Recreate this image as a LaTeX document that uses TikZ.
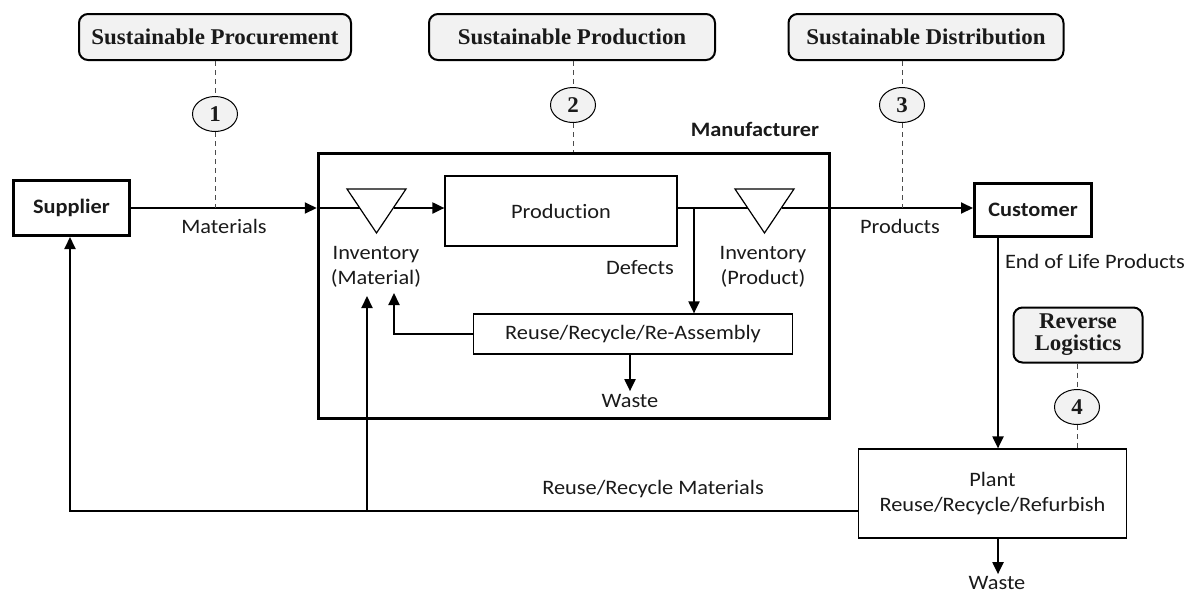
\documentclass[tikz,border=0pt]{standalone}
\usepackage{fontspec}
\setmainfont{Carlito}[FakeStretch=1.09,Ligatures=NoCommon]
\newfontfamily\serifbf{Liberation Serif}[FakeStretch=1.02]
\usetikzlibrary{arrows.meta,shapes.geometric}
\definecolor{boxfill}{HTML}{F2F2F2}
\definecolor{txt}{HTML}{1A1A1A}
\begin{document}
\begin{tikzpicture}[x=1pt,y=-1pt,
  every node/.style={font=\fontsize{20.5}{25}\selectfont, inner sep=0pt, text=txt},
  lbl/.style={align=center},
  boldlbl/.style={font=\bfseries\fontsize{20.5}{25}\selectfont},
  topbox/.style={draw, rounded corners=9pt, fill=boxfill, line width=2pt, minimum height=46pt,
    font=\serifbf\bfseries\fontsize{22.5}{24}\selectfont, align=center},
  num/.style={draw, ellipse, fill=boxfill, minimum width=45pt, minimum height=35pt, line width=1pt,
    font=\serifbf\bfseries\fontsize{22.5}{24}\selectfont},
  guide/.style={line width=1pt, draw=black!70, dash pattern=on 5pt off 4pt},
  flow/.style={line width=2pt, -{Triangle[length=12pt,width=11pt]}},
  plain/.style={line width=2pt},
  bigbox/.style={draw, line width=3pt, font=\bfseries\fontsize{20.5}{25}\selectfont},
  smallbox/.style={draw, line width=1.2pt, align=center},
  invtri/.style={draw, line width=1.2pt, fill=white}
]
\useasboundingbox (0,0) rectangle (1195,595);

% top category boxes
\node[topbox, minimum width=272pt] (tb1) at (215,37) {Sustainable Procurement};
\node[topbox, minimum width=286pt] (tb2) at (572,37) {Sustainable Production};
\node[topbox, minimum width=275pt] (tb3) at (926,37) {Sustainable Distribution};
\node[topbox, minimum width=129pt, minimum height=55pt] (tb4) at (1078,335) {Reverse\\[-2pt]Logistics};

% numbered ellipses
\node[num] (n1) at (215,114) {1};
\node[num] (n2) at (573,105) {2};
\node[num] (n3) at (902,105) {3};
\node[num] (n4) at (1077,407) {4};

% main boxes
\node[bigbox, minimum width=116pt, minimum height=55pt] (sup) at (71.5,208) {Supplier};
\node[bigbox, minimum width=117pt, minimum height=53pt] (cust) at (1033,210) {Customer};
\node[draw, line width=3.5pt, minimum width=511pt, minimum height=265pt] (mfr) at (574,286) {};
\node[boldlbl, anchor=center] (mfrlbl) at (755,129) {Manufacturer};

\node[smallbox, minimum width=232pt, minimum height=70pt] (prod) at (561,211) {Production};
\node[smallbox, minimum width=319pt, minimum height=40pt] (reuse) at (633,334) {Reuse/Recycle/Re-Assembly};
\node[smallbox, minimum width=268pt, minimum height=89pt] (plant) at (992.5,493.5) {Plant\\Reuse/Recycle/Refurbish};

% inventory triangles
\draw[invtri] (347,189) -- (406,189) -- (376.5,233) -- cycle;
\draw[invtri] (735,189) -- (794,189) -- (764.5,233) -- cycle;
\coordinate (invMl) at (359.5,208);
\coordinate (invMr) at (393.5,208);
\coordinate (invPl) at (747.5,208);
\coordinate (invPr) at (781.5,208);

% labels
\node[lbl] (matl) at (224,226) {Materials};
\node[lbl] (prodl) at (900,226) {Products};
\node[lbl] (invMlbl) at (376,267) {Inventory\\(Material)};
\node[lbl] (invPlbl) at (763,267) {Inventory\\(Product)};
\node[lbl] (defl) at (640,268) {Defects};
\node[lbl] (eoll) at (1095,261) {End of Life Products};
\node[lbl] (waste1) at (630,401) {Waste};
\node[lbl] (waste2) at (997,583) {Waste};
\node[lbl] (rrm) at (653,489) {Reuse/Recycle Materials};

% helper coordinates
\coordinate (mainy) at (0,208);
\coordinate (dbr) at (694,208);
\coordinate (eolx) at (998,0);
\coordinate (loopy) at (0,511);
\coordinate (br2) at (367,511);
\coordinate (br2end) at (367,296);
\coordinate (rbend) at (394,334);
\coordinate (rbend2) at (394,293);

% flows
\draw[flow] (sup.east |- mainy) -- (mfr.west |- mainy);
\draw[plain] (mfr.west |- mainy) -- (invMl);
\draw[flow] (invMr) -- (prod.west |- mainy);
\draw[plain] (prod.east |- mainy) -- (invPl);
\draw[flow] (invPr) -- (cust.west |- mainy);
\draw[flow] (dbr) -- (dbr |- reuse.north);
\draw[flow] (reuse.west) -- (rbend) -- (rbend2);
\draw[flow] (reuse.south -| waste1) -- ([yshift=3pt]waste1.north);
\draw[flow] (cust.south -| eolx) -- (plant.north -| eolx);
\draw[flow] (plant.south -| eolx) -- ([yshift=2pt]waste2.north -| eolx);
\draw[flow] (plant.west |- loopy) -| ([xshift=-1.5pt]sup.south);
\draw[flow] (br2) -- (br2end);

% dashed guides
\draw[guide] (tb1.south) -- (n1.north);
\draw[guide] (n1.south) -- (n1.south |- mainy);
\draw[guide] (n2.north |- tb2.south) -- (n2.north);
\draw[guide] (n2.south) -- (n2.south |- mfr.north);
\draw[guide] (n3.north |- tb3.south) -- (n3.north);
\draw[guide] (n3.south) -- (n3.south |- mainy);
\draw[guide] (n4.north |- tb4.south) -- (n4.north);
\draw[guide] (n4.south) -- (n4.south |- plant.north);
\end{tikzpicture}
\end{document}
